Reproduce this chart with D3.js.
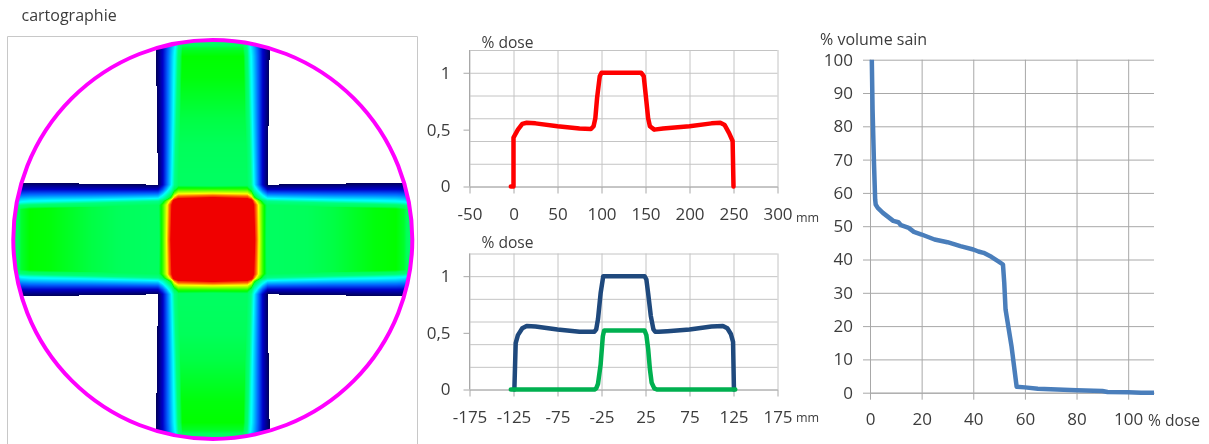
<!DOCTYPE html>
<html><head><meta charset="utf-8">
<script src="https://cdn.jsdelivr.net/npm/d3@7"></script>
<style>
html,body{margin:0;padding:0;background:#fff;width:1209px;height:444px;overflow:hidden}
#wrap{position:relative;width:1209px;height:444px}
canvas,svg{position:absolute;left:0;top:0}
text{font-family:"Open Sans",sans-serif;fill:#3c3c3c}
</style></head><body><div id="wrap"></div>
<script>
// ---- data ----
const profileMm   = [-3,0,0,5,10,15,25,50,75,88,91,93,95,98,100,125,145,148,151,153,155,160,170,200,225,235,240,245,249,250];
const profileDose = [0,0,.43,.5,.55,.56,.555,.53,.51,.505,.53,.6,.78,.97,1,1,1,.97,.75,.6,.53,.5,.51,.53,.555,.56,.54,.47,.4,0];
const blueMm   = [-124,-122.5,-120,-115,-110,-100,-75,-50,-33,-31,-29,-26,-23,-21,0,24,26,28,31,34,36,40,50,75,100,113,118,122,124.5,125.5];
const blueDose = [0,.41,.48,.54,.56,.555,.53,.51,.51,.53,.62,.85,1,1,1,1,.97,.85,.65,.53,.51,.51,.515,.53,.555,.56,.54,.49,.42,0];
const greenMm   = [-128,-33,-31,-29,-26,-23.5,-22,0,24,26,28,30,32,35,38,127];
const greenDose = [0,0,.01,.05,.22,.47,.52,.52,.52,.48,.36,.18,.06,.01,0,0];
const dvhDose   = [.7,1,1.5,2,2.2,3,5,7,9,11,12,15,17,20,25,30,35,40,42,44,47,50,51.5,52,52.5,54.8,56.8,60,65,70,80,90,92,100,105,110];
const dvhVolume = [100,85,70,58,56.5,55.5,54,52.8,51.6,51.2,50.3,49.5,48.3,47.5,46,45.2,44,43,42.4,42,40.8,39.3,38.5,33,25,14,1.8,1.6,1.2,1,.7,.5,.2,.1,0,0];
const xTicks1 = [-50,0,50,100,150,200,250,300];
const xTicks2 = [-175,-125,-75,-25,25,75,125,175];
const xTicks3 = [0,20,40,60,80,100];
const yGrid1  = [0,.2,.4,.6,.8,1,1.2];
const yLabels1 = [0,.5,1];
const yTicks3 = [0,10,20,30,40,50,60,70,80,90,100];
// beam edge: distance from the inner penumbra edge -> dose
const innerPx   = [-7,-3,0];
const innerDose = [.52,.45,.3];
const outerPos  = [0,.36,.64,1];
const outerDose = [.3,.17,.08,0];
// map colours
const mapStops  = [0,.08,.17,.3,.45,.52,.56,.7,.77,.85,1];
const mapColors = ["#00005a","#0000c8","#0064ff","#00ffff","#00ff82","#00ff5a","#00ff00","#ffff00","#ff6400","#f00000","#f00000"];
// ------------------------------------

const W=1209,H=444;
const wrap=d3.select("#wrap");
const cv=wrap.append("canvas").attr("width",W).attr("height",H).node();
const svg=wrap.append("svg").attr("width",W).attr("height",H);

// map
const cx=212.8, cy=239.5, R=199.5;
const pxPerMm=R/125;
const colour=d3.scaleLinear().domain(mapStops).range(mapColors).clamp(true);
const inner=d3.scaleLinear().domain(innerPx).range(innerDose).clamp(true);
const outer=d3.scaleLinear().domain(outerPos).range(outerDose).clamp(true);
const arm=d3.scaleLinear().domain(blueMm).range(blueDose).clamp(true);
function plateau(along){
  const mm=Math.abs(along)/pxPerMm*.985;
  return mm<40?.51:arm(mm);
}
function beam(d,along){
  const t=Math.min(1,Math.abs(along)/200);
  const m=43-6*t,o=54+3*t,ad=Math.abs(d);
  const v=ad<m?inner(ad-m):outer((ad-m)/(o-m));
  return {inside:ad<=o,v:v/.52};
}
const ctx=cv.getContext("2d");
const img=ctx.createImageData(W,H);
for(let py=36;py<444;py++)for(let px=8;px<417;px++){
  const x=px+.5-cx,y=py+.5-cy;
  if(x*x+y*y>R*R) continue;
  const a=beam(x,y),b=beam(y,x);
  if(!a.inside&&!b.inside) continue;
  const dose=(a.inside?a.v*plateau(y):0)+(b.inside?b.v*plateau(x):0);
  const c=d3.rgb(colour(dose));
  const i=(py*W+px)*4;
  img.data[i]=c.r;img.data[i+1]=c.g;img.data[i+2]=c.b;img.data[i+3]=255;
}
ctx.putImageData(img,0,0);

svg.append("path").attr("d","M7.5,444V36.5H417.5V444").attr("fill","none").attr("stroke","#c8c8c8");
svg.append("circle").attr("cx",cx).attr("cy",cy).attr("r",R).attr("fill","none").attr("stroke","#ff00ff").attr("stroke-width",4);
svg.append("text").attr("x",21.5).attr("y",21).style("font-size","16px").text("cartographie");

function label(x,y,t,size,anchor){
  svg.append("text").attr("x",x).attr("y",y).attr("text-anchor",anchor||"start").style("font-size",size+"px").text(t);
}
const fr=v=>String(v).replace(".",",");
function style(g,grid){
  g.select(".domain").attr("stroke",grid);
  g.selectAll(".tick line").attr("stroke",grid);
  g.selectAll(".tick text").style("font-size","17px").attr("fill","#3c3c3c");
}
function profilePanel(top,bottom,xDom,ticksX,series){
  const x=d3.scaleLinear().domain(xDom).range([469.5,777.5]);
  const y=d3.scaleLinear().domain([0,1.2]).range([bottom,top]);
  const g=svg.append("g");
  const grid="#c4c4c4";
  const gy=g.append("g").attr("transform","translate(469.5,0)").call(d3.axisLeft(y).tickValues(yGrid1).tickSize(-308).tickFormat(""));
  style(gy,grid); gy.select(".domain").remove();
  const gx=g.append("g").attr("transform",`translate(0,${bottom})`).call(d3.axisBottom(x).tickValues(ticksX).tickSize(7).tickSizeOuter(0).tickPadding(14).tickFormat(d=>d));
  style(gx,"#a8a8a8");
  const gv=g.append("g").attr("transform",`translate(0,${bottom})`).call(d3.axisTop(x).tickValues(ticksX).tickSize(bottom-top).tickFormat(""));
  style(gv,grid); gv.select(".domain").remove();
  const gl=g.append("g").attr("transform","translate(469.5,0)").call(d3.axisLeft(y).tickValues(yLabels1).tickSize(6).tickSizeOuter(0).tickPadding(13).tickFormat(fr));
  style(gl,"#a8a8a8");
  gl.select(".domain").attr("d",`M0,${bottom}V${top}`);
  const line=d3.line().x(d=>x(d[0])).y(d=>y(d[1]));
  series.forEach(s=>{
    g.append("path").attr("d",line(d3.zip(s.xs,s.ys))).attr("fill","none").attr("stroke",s.color)
     .attr("stroke-width",4.5).attr("stroke-linejoin","round").attr("stroke-linecap","round");
  });
}
profilePanel(50,186.5,[-50,300],xTicks1,[{xs:profileMm,ys:profileDose,color:"#ff0000"}]);
profilePanel(253.5,389.5,[-175,175],xTicks2,[{xs:blueMm,ys:blueDose,color:"#1f497d"},{xs:greenMm,ys:greenDose,color:"#00b050"}]);
label(481.5,48,"% dose",15.6); label(481.5,248,"% dose",15.6);
label(796,222,"mm",12.5); label(796,422,"mm",12.5);

// DVH
{
  const x=d3.scaleLinear().domain([0,110]).range([870,1154]);
  const y=d3.scaleLinear().domain([0,100]).range([392.7,59.7]);
  const grid="#a8a8a8";
  const g=svg.append("g");
  const gy=g.append("g").attr("transform","translate(870,0)").call(d3.axisLeft(y).tickValues(yTicks3).tickSize(7).tickSizeOuter(0).tickPadding(10).tickFormat(d=>d));
  style(gy,grid);
  const gh=g.append("g").attr("transform","translate(870,0)").call(d3.axisRight(y).tickValues(yTicks3).tickSize(284).tickFormat(""));
  style(gh,grid); gh.select(".domain").remove();
  const gx=g.append("g").attr("transform","translate(0,392.7)").call(d3.axisBottom(x).tickValues(xTicks3).tickSize(7).tickSizeOuter(0).tickPadding(13).tickFormat(d=>d));
  style(gx,grid);
  const gv=g.append("g").attr("transform","translate(0,392.7)").call(d3.axisTop(x).tickValues(xTicks3).tickSize(333).tickFormat(""));
  style(gv,grid); gv.select(".domain").remove();
  g.append("path").attr("d",d3.line().x(d=>x(d[0])).y(d=>y(d[1]))(d3.zip(dvhDose,dvhVolume)))
   .attr("fill","none").attr("stroke","#4a7ebb").attr("stroke-width",4.5).attr("stroke-linejoin","round");
  label(820,45,"% volume sain",16);
  label(1148,426,"% dose",15.6);
}
</script></body></html>
